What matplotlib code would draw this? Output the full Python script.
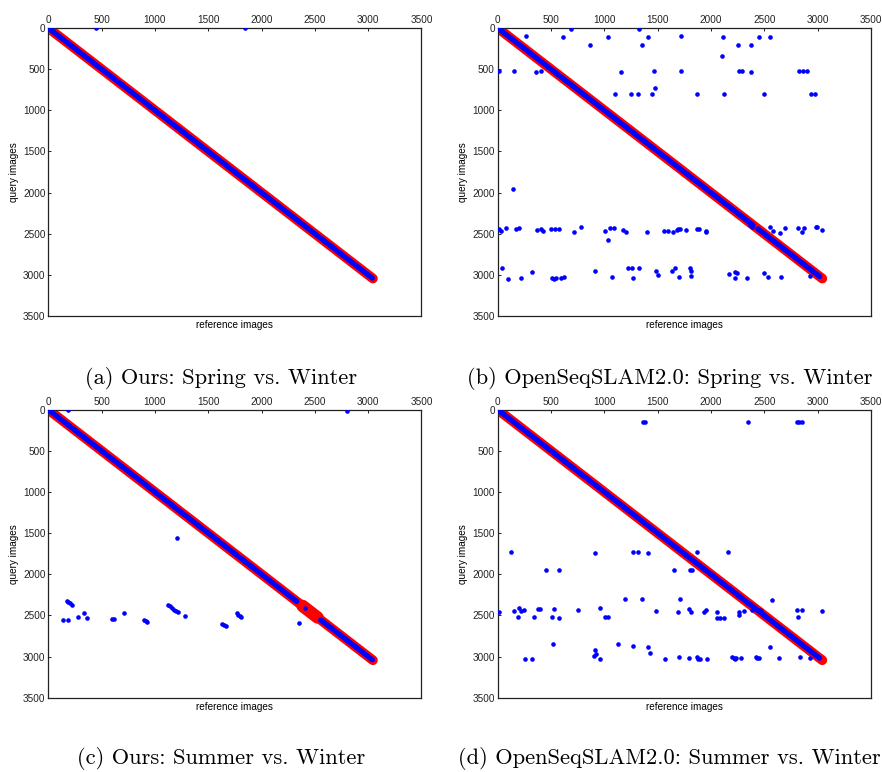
import numpy as np
import matplotlib
matplotlib.use("Agg")
import matplotlib.pyplot as plt

plt.rcParams["font.family"] = ["Liberation Sans", "DejaVu Sans"]

# ----------------------------
# Datos
# ----------------------------

axis_max = 3500
ticks = [0, 500, 1000, 1500, 2000, 2500, 3000, 3500]

# ground truth: diagonal de 0 a 3050
gt_range = [0, 3045]

captions = [
    "(a) Ours: Spring vs. Winter",
    "(b) OpenSeqSLAM2.0: Spring vs. Winter",
    "(c) Ours: Summer vs. Winter",
    "(d) OpenSeqSLAM2.0: Summer vs. Winter",
]

# tramos de la diagonal de matches correctos (inicio, fin)
a_diag = [(0, 3040)]
b_diag = [(0, 2395), (2440, 3020)]
c_diag = [(0, 2330), (2555, 3040)]
d_diag = [(0, 3020)]

# tramos donde el ground truth es mas ancho
c_gt_wide = [(2385, 2525)]

# (a) falsos matches
a_x = [444, 1844]
a_y = [0, 0]

# (b) falsos matches
b_x = [266, 689, 617, 1033, 864, 1324, 1412, 1356, 1716, 2113, 2104, 2257, 2376, 2451, 2552,
       9, 157, 357, 407, 1158, 1465, 1716, 2264, 2295, 2376, 2824, 2865, 2902,
       1099, 1246, 1315, 1450, 1475, 1869, 2126, 2498, 2937, 2974,
       141,
       9, 31, 78, 169, 197, 369, 407, 429, 501, 542, 579, 714, 780, 1002, 1036, 1058, 1093,
       1174, 1199, 1403, 1559, 1600, 1644, 1681, 1694, 1709, 1766, 1866, 1885, 1950, 1954,
       2364, 2385, 2555, 2583, 2646, 2696, 2815, 2852, 2874, 2987, 2996, 3046,
       44, 94, 219, 322, 510, 532, 548, 595, 626, 911, 1071, 1224, 1259, 1271, 1324,
       1487, 1506, 1637, 1659, 1700, 1803, 1816, 1810, 2170, 2223, 2242, 2226, 2339,
       2502, 2539, 2655, 2934]
b_y = [101, 8, 105, 105, 203, 12, 109, 211, 101, 105, 337, 207, 203, 114, 105,
       519, 519, 535, 527, 531, 519, 519, 527, 527, 531, 519, 527, 527,
       803, 807, 803, 803, 734, 799, 803, 799, 799, 799,
       1951,
       2445, 2465, 2433, 2445, 2425, 2453, 2445, 2473, 2445, 2437, 2437, 2477, 2413, 2473,
       2571, 2425, 2433, 2453, 2477, 2481, 2469, 2469, 2481, 2457, 2445, 2445, 2457, 2437,
       2437, 2477, 2465, 2400, 2413, 2417, 2469, 2486, 2425, 2433, 2482, 2425, 2417, 2421,
       2453,
       2920, 3045, 3037, 2960, 3033, 3045, 3041, 3033, 3029, 2948, 3029, 2912, 2912, 3037,
       2920, 2956, 3005, 2952, 2920, 3025, 2912, 2948, 3013, 2985, 2960, 2980, 3037, 3033,
       2980, 3021, 3029, 3017]

# (c) falsos matches
c_x = [188, 2803, 1206,
       172, 185, 200, 219,
       134, 184, 278, 334, 363, 600, 615, 706, 900, 912, 925,
       1120, 1140, 1160, 1180, 1200, 1215,
       1278, 1632, 1648, 1663, 1766, 1780, 1794, 1806, 2353, 2409]
c_y = [5, 10, 1558,
       2327, 2340, 2355, 2372,
       2553, 2553, 2521, 2468, 2529, 2538, 2545, 2477, 2557, 2569, 2581,
       2370, 2390, 2410, 2430, 2450, 2462,
       2513, 2602, 2614, 2627, 2477, 2490, 2504, 2517, 2590, 2408]

# (d) falsos matches
d_x = [1362, 1381, 2348, 2808, 2824, 2855,
       125, 911, 1268, 1318, 1412, 1866, 2157,
       454, 579, 1656, 1800, 1819,
       1190, 1356, 1713, 2574,
       9, 150, 188, 204, 222, 244, 341, 379, 401, 532, 507, 573, 751, 964, 1005, 1039,
       1481, 1694, 1794, 1813, 1935, 1951, 2054, 2060, 2085, 2123, 2267, 2267, 2307, 2389,
       2458, 2470, 2811, 2852, 2818, 3046,
       517, 1133, 1265, 1409, 1431, 2555,
       908, 918, 905, 955, 254, 322, 1572, 1700, 1797, 1866, 1875, 1900, 1960,
       2201, 2217, 2226, 2232, 2285, 2420, 2436, 2448, 2636, 2833, 2934]
d_y = [146, 146, 146, 146, 146, 150,
       1728, 1736, 1732, 1732, 1736, 1728, 1732,
       1947, 1947, 1943, 1943, 1943,
       2299, 2299, 2299, 2307,
       2461, 2449, 2521, 2412, 2449, 2429, 2521, 2420, 2420, 2424, 2517, 2534, 2429, 2416,
       2517, 2517, 2441, 2453, 2420, 2453, 2453, 2429, 2453, 2530, 2530, 2526, 2453, 2490,
       2449, 2429, 2440, 2445, 2429, 2429, 2521, 2445,
       2853, 2853, 2877, 2881, 2954, 2881,
       2922, 2966, 2995, 3036, 3032, 3032, 3036, 3004, 3020, 3004, 3032, 3032, 3036,
       3004, 3020, 3032, 3012, 3020, 3004, 3016, 3024, 3020, 3004, 3024]

panels = [
    (a_x, a_y, a_diag, []),
    (b_x, b_y, b_diag, []),
    (c_x, c_y, c_diag, c_gt_wide),
    (d_x, d_y, d_diag, []),
]

# ----------------------------
# Figura
# ----------------------------

fig = plt.figure(figsize=(8.82, 7.72), dpi=100)

ax_w, ax_h = 0.4230, 0.3730
lefts = [0.0548, 0.5643, 0.0548, 0.5643]
bottoms = [0.5907, 0.5907, 0.0963, 0.0963]
cap_pos = [(0.2510, 0.5020), (0.7590, 0.5020), (0.2510, 0.0100), (0.7590, 0.0100)]

for i, (px, py, diag, wide) in enumerate(panels):
    ax = fig.add_axes([lefts[i], bottoms[i], ax_w, ax_h])

    # ground truth
    ax.plot(gt_range, gt_range, color="#ff0000", lw=7.0, solid_capstyle="round", zorder=2)
    for s, e in wide:
        ax.plot([s, e], [s, e], color="#ff0000", lw=9.0, solid_capstyle="round", zorder=2)

    # matches sobre la diagonal
    for s, e in diag:
        ax.plot([s, e], [s, e], color="#0000ff", lw=3.8, solid_capstyle="round", zorder=3)

    # falsos matches
    ax.plot(px, py, "o", color="#0000ff", ms=3.3, mec="none", zorder=4)

    ax.set_xlim(0, axis_max)
    ax.set_ylim(axis_max, 0)
    ax.set_xticks(ticks)
    ax.set_yticks(ticks)
    ax.xaxis.tick_top()
    ax.tick_params(direction="in", length=2.5, width=0.7, labelsize=7.2, pad=2,
                   colors="#222222", labelcolor="#222222")
    for sp in ax.spines.values():
        sp.set_linewidth(0.9)
        sp.set_color("#222222")

    ax.set_xlabel("reference images", fontsize=7.2, labelpad=3)
    ax.xaxis.set_label_position("bottom")
    ax.set_ylabel("query images", fontsize=7.2, labelpad=3)

    fig.text(cap_pos[i][0], cap_pos[i][1], captions[i], family="cmr10",
             fontsize=16.2, ha="center", va="baseline")

fig.savefig("out.png", dpi=100)
